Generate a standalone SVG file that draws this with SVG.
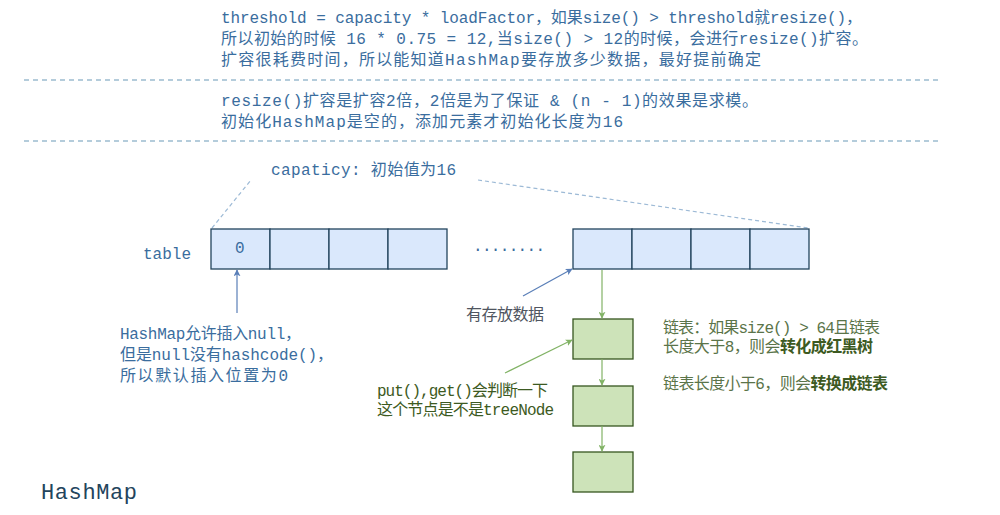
<svg xmlns="http://www.w3.org/2000/svg" width="1000" height="515" viewBox="0 0 1000 515">
<style>
text{font-family:"Liberation Mono","Noto Sans CJK SC",monospace;font-size:16px}
.b{fill:#3a6d9e}
.g{fill:#5a7449}
.gd{fill:#3d5a22}
.bold{font-weight:bold;fill:#3d5a22}
.sep{stroke:#6b9ab8;stroke-width:1.2;stroke-dasharray:5 4;fill:none}
.cap{stroke:#9dbad6;stroke-width:1.2;stroke-dasharray:4 3;fill:none}
.cell{fill:#dae8fc;stroke:#23445d;stroke-width:1.3}
.gbox{fill:#cde3b9;stroke:#36561f;stroke-width:1.3}
.ba{stroke:#5a7fb8;stroke-width:1.2;fill:none;marker-end:url(#mb)}
.ga{stroke:#82b366;stroke-width:1.2;fill:none;marker-end:url(#mg)}
</style>
<defs>
<marker id="mb" viewBox="0 0 10 10" refX="9" refY="5" markerWidth="7" markerHeight="7" orient="auto" markerUnits="userSpaceOnUse"><path d="M0,0 L10,5 L0,10 L2.5,5 Z" fill="#5a7fb8"/></marker>
<marker id="mg" viewBox="0 0 10 10" refX="9" refY="5" markerWidth="7" markerHeight="7" orient="auto" markerUnits="userSpaceOnUse"><path d="M0,0 L10,5 L0,10 L2.5,5 Z" fill="#82b366"/></marker>
</defs>

<g id="notes-top">
<text class="b" x="221" y="23" textLength="641" lengthAdjust="spacing">threshold = capacity * loadFactor，如果size() &gt; threshold就resize()，</text>
<text class="b" x="221" y="44" textLength="647" lengthAdjust="spacing">所以初始的时候 16 * 0.75 = 12,当size() &gt; 12的时候，会进行resize()扩容。</text>
<text class="b" x="221" y="65" textLength="540" lengthAdjust="spacing">扩容很耗费时间，所以能知道HashMap要存放多少数据，最好提前确定</text>
</g>
<g id="notes-resize">
<text class="b" x="221" y="106" textLength="537" lengthAdjust="spacing">resize()扩容是扩容2倍，2倍是为了保证 &amp; (n - 1)的效果是求模。</text>
<text class="b" x="221" y="127" textLength="402" lengthAdjust="spacing">初始化HashMap是空的，添加元素才初始化长度为16</text>
</g>
<g id="separators">
<line class="sep" x1="24" y1="80" x2="942" y2="80"/>
<line class="sep" x1="24" y1="141" x2="942" y2="141"/>
</g>

<g id="capacity">
<text class="b" x="271" y="175" textLength="185" lengthAdjust="spacing">capaticy: 初始值为16</text>
<line class="cap" x1="212" y1="228" x2="251" y2="180"/>
<line class="cap" x1="478" y1="180" x2="808" y2="228"/>
</g>

<g id="table-label"><text class="b" x="143" y="259">table</text></g>

<g id="table-left">
<rect class="cell" x="211" y="229" width="59" height="40"/>
<rect class="cell" x="270" y="229" width="59" height="40"/>
<rect class="cell" x="329" y="229" width="59" height="40"/>
<rect class="cell" x="388" y="229" width="59" height="40"/>
<text class="b" x="235" y="253">0</text>
</g>
<g id="dots"><text class="b" x="473" y="251" textLength="72" lengthAdjust="spacing">........</text></g>
<g id="table-right">
<rect class="cell" x="573" y="229" width="59" height="40"/>
<rect class="cell" x="632" y="229" width="59" height="40"/>
<rect class="cell" x="691" y="229" width="59" height="40"/>
<rect class="cell" x="750" y="229" width="59" height="40"/>
</g>

<g id="null-note">
<text class="b" x="120" y="339" textLength="181" lengthAdjust="spacing">HashMap允许插入null，</text>
<text class="b" x="120" y="360" textLength="213" lengthAdjust="spacing">但是null没有hashcode()，</text>
<text class="b" x="120" y="381" textLength="168" lengthAdjust="spacing">所以默认插入位置为0</text>
</g>
<g id="data-note"><text x="466" y="320" fill="#4f5560" textLength="78" lengthAdjust="spacing">有存放数据</text></g>

<g id="chain">
<rect class="gbox" x="573" y="319" width="60" height="40"/>
<rect class="gbox" x="573" y="386" width="60" height="40"/>
<rect class="gbox" x="573" y="452" width="60" height="40"/>
</g>

<g id="tree-note">
<text class="gd" x="377" y="396" textLength="171" lengthAdjust="spacing">put(),get()会判断一下</text>
<text class="gd" x="377" y="415" textLength="177" lengthAdjust="spacing">这个节点是不是treeNode</text>
</g>
<g id="chain-note">
<text class="g" x="663" y="333" textLength="217" lengthAdjust="spacing">链表：如果size() &gt; 64且链表</text>
<text class="g" x="663" y="352" textLength="210" lengthAdjust="spacing">长度大于8，则会<tspan class="bold">转化成红黑树</tspan></text>
<text class="g" x="663" y="389" textLength="225" lengthAdjust="spacing">链表长度小于6，则会<tspan class="bold">转换成链表</tspan></text>
</g>

<g id="title"><text x="41" y="499" fill="#23445d" style="font-size:22px" textLength="96" lengthAdjust="spacing">HashMap</text></g>

<g id="connectors">
<line class="ba" x1="237" y1="313" x2="237" y2="270"/>
<line class="ba" x1="523" y1="296" x2="572" y2="269"/>
<line class="ga" x1="602" y1="270" x2="602" y2="318"/>
<line class="ga" x1="602" y1="359" x2="602" y2="385"/>
<line class="ga" x1="602" y1="426" x2="602" y2="451"/>
<line class="ga" x1="505" y1="373" x2="572" y2="340"/>
</g>
</svg>
